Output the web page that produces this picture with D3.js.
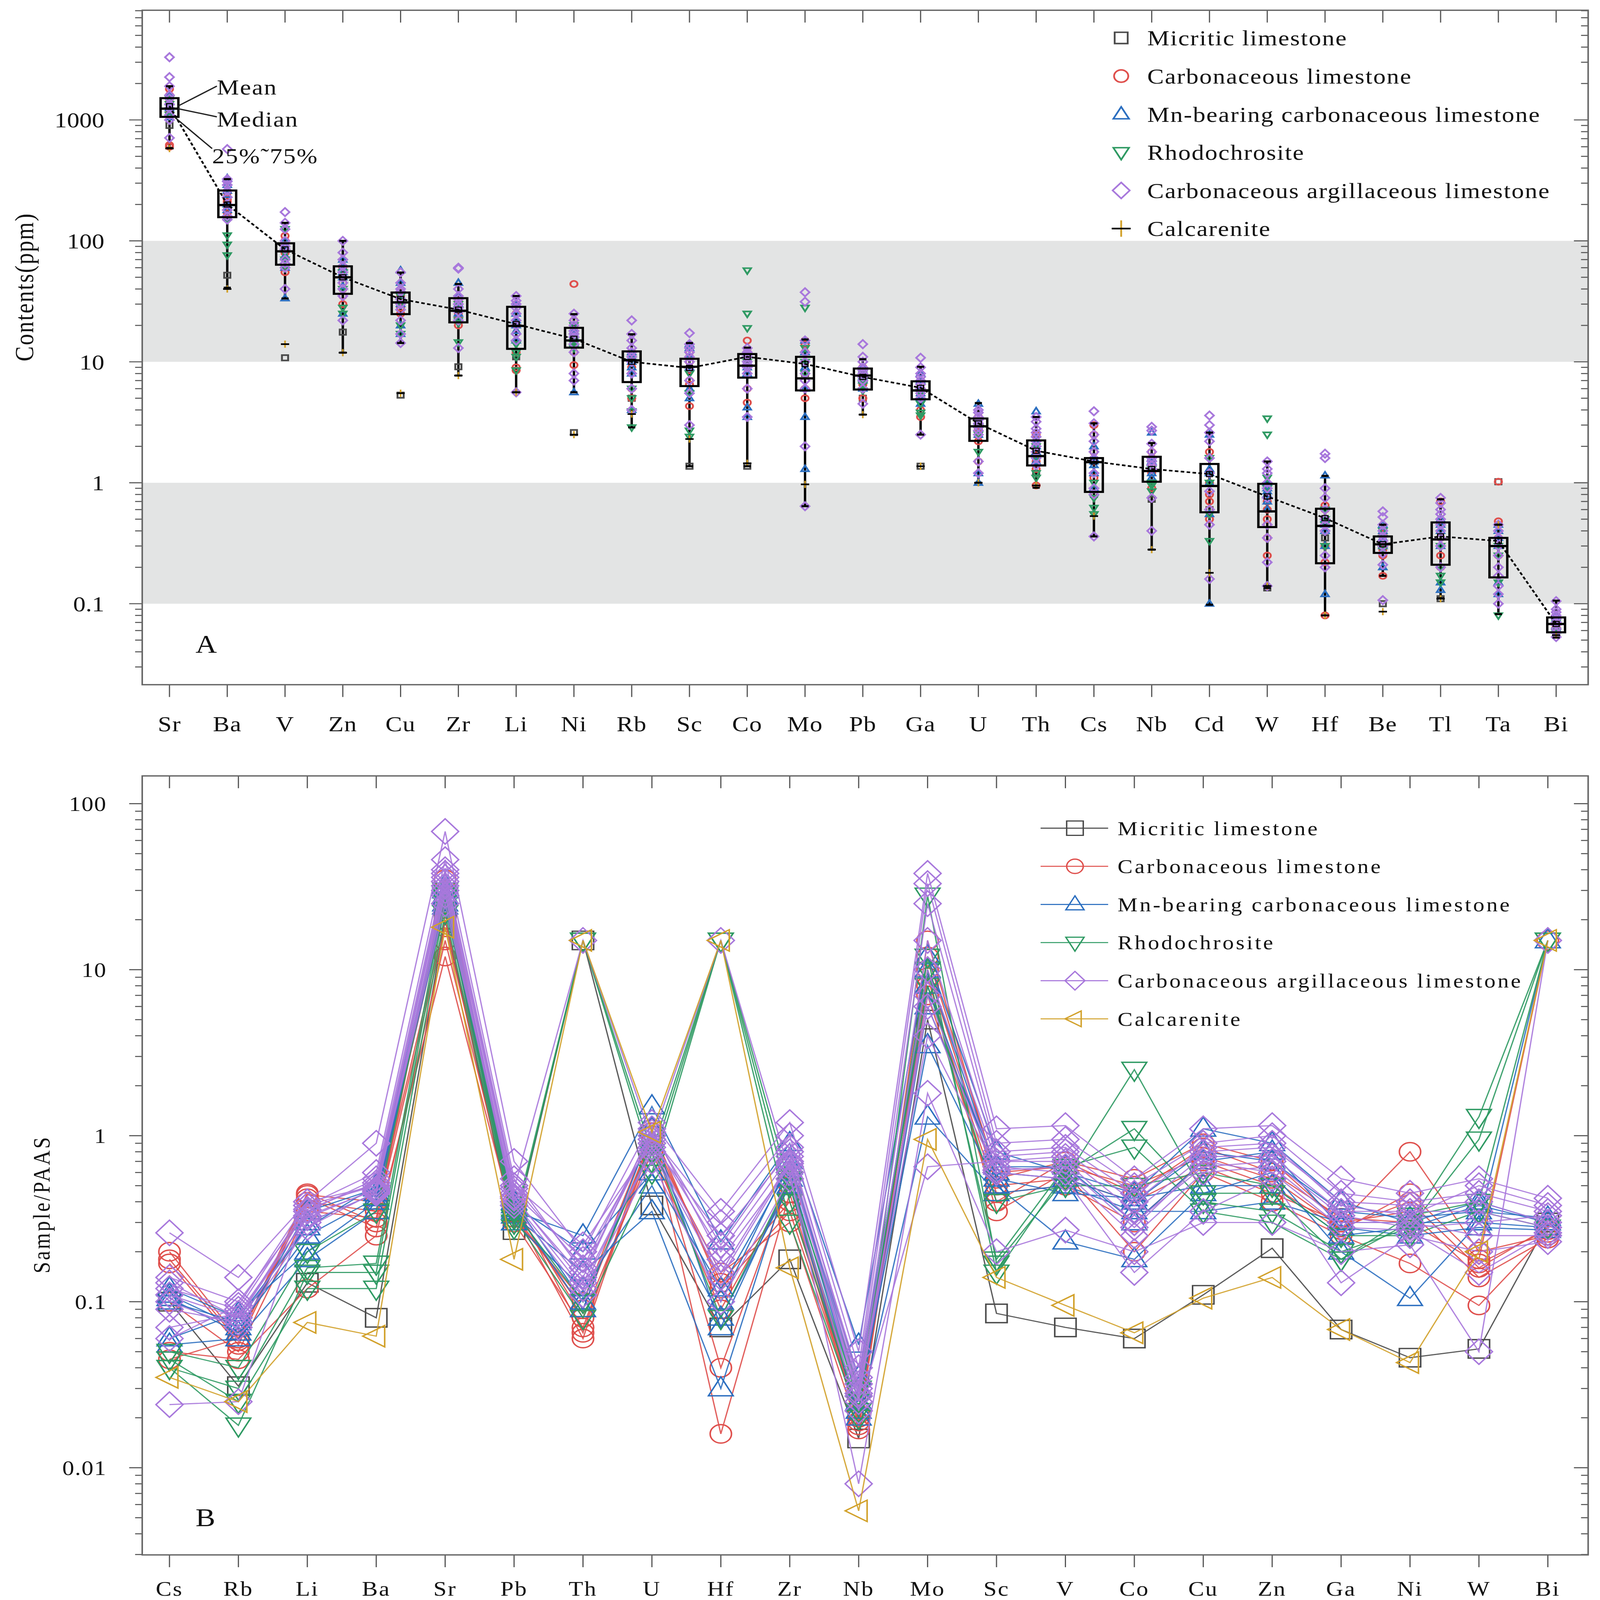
<!DOCTYPE html>
<html lang="en">
<head>
<meta charset="UTF-8">
<title>Trace element contents and PAAS-normalised patterns</title>
<script src="https://cdnjs.cloudflare.com/ajax/libs/d3/7.8.5/d3.min.js"></script>
<style>
  html, body { margin: 0; padding: 0; background: #fff; overflow: hidden; }
  svg { display: block; }
  text { font-family: "Liberation Serif", "Times New Roman", serif; fill: #111; }
</style>
</head>
<body>
<div id="chart"></div>
<script>
// ---------- data : panel A (contents, ppm) ----------
const elementsA = ["Sr","Ba","V","Zn","Cu","Zr","Li","Ni","Rb","Sc","Co","Mo","Pb","Ga","U","Th","Cs","Nb","Cd","W","Hf","Be","Tl","Ta","Bi"];
const boxQ1     = [1060, 157, 63.5, 36.5, 24.8, 21.2, 12.8, 13.1, 6.8, 6.3, 7.4, 5.8, 5.9, 4.9, 2.22, 1.39, 0.84, 1.02, 0.57, 0.43, 0.216, 0.263, 0.21, 0.165, 0.058];
const boxQ3     = [1514, 261, 95.5, 61.6, 37.4, 33.6, 28.5, 19.1, 12.2, 10.6, 11.6, 11, 8.8, 6.9, 3.4, 2.24, 1.6, 1.64, 1.43, 0.98, 0.61, 0.36, 0.47, 0.35, 0.077];
const boxMedian = [1240, 198, 82, 50, 31, 26.4, 19.8, 15, 10.3, 9.1, 9.3, 7.3, 7.7, 5.8, 2.93, 1.66, 1.48, 1.25, 0.94, 0.58, 0.44, 0.31, 0.34, 0.30, 0.068];
const boxMean   = [1300, 200, 85, 50, 33, 27, 20.5, 15.5, 10, 8.9, 11, 9.6, 7.5, 6.1, 3.1, 1.84, 1.5, 1.3, 1.18, 0.77, 0.51, 0.31, 0.36, 0.33, 0.068];
const whiskLow  = [585, 41, 33.4, 11.9, 14.3, 7.7, 5.6, 5.6, 2.87, 1.37, 1.37, 0.64, 3.66, 2.5, 1.0, 0.91, 0.36, 0.28, 0.098, 0.135, 0.08, 0.17, 0.111, 0.082, 0.0525];
const whiskHigh = [1900, 324, 141, 100, 54.7, 44, 35, 24.8, 16.9, 14.3, 13.1, 15.3, 10.5, 9.1, 4.56, 3.5, 3.1, 2.13, 2.6, 1.5, 1.14, 0.45, 0.73, 0.45, 0.106];

// sample points per rock type, one row per element (same order as elementsA)
const aMicritic    = [900, 52, 10.8, 17.6, 5.3, 9.1, 11, 2.6, 5, 1.37, 1.37, 8, 5, 1.37, 2.5, 1.2, 0.8, 0.73, 0.6, 0.135, 0.35, 0.1, 0.11, 1.02, 0.065];
const aCalcarenite = [580, 40, 14, 11.9, 5.5, 7.7, 5.6, 2.5, 3.7, 2.3, 1.45, 0.97, 3.66, 1.37, 1.0, 0.95, 0.53, 0.28, 0.18, 0.14, 0.08, 0.086, 0.11, 0.45, 0.055];
const aCarbonaceous = [
  [1800, 1600, 1400, 1200, 600, 620],
  [180, 200, 220, 170, 250, 210],
  [110, 90, 60, 55, 80, 100],
  [45, 40, 60, 30, 35, 50],
  [28, 30, 25, 33, 38, 35],
  [20, 25, 30, 27, 23, 32],
  [9, 8.5, 12, 20, 25, 30],
  [44, 9.4, 22, 18, 12, 15],
  [5, 6, 10, 12, 8, 9],
  [4.3, 7, 10, 12, 8.5, 6.5],
  [4.6, 6, 15, 12, 10, 8],
  [15, 14, 12, 8, 5, 6],
  [5, 6.5, 7, 8, 9, 7.5],
  [3.5, 4, 5, 6, 7, 5.5],
  [1.5, 2.2, 2.8, 3.5, 3, 2.6],
  [0.95, 1.3, 1.5, 2.0, 2.5, 1.7],
  [3.0, 2.5, 1.8, 1.5, 1.1, 0.8],
  [1.8, 1.6, 1.2, 1.0, 0.9, 1.4],
  [1.8, 1.0, 0.8, 0.6, 0.5, 0.7],
  [0.25, 0.45, 0.5, 0.6, 0.7, 0.35],
  [0.08, 0.22, 0.3, 0.45, 0.6, 0.65],
  [0.17, 0.25, 0.3, 0.32, 0.28, 0.38],
  [0.7, 0.45, 0.35, 0.3, 0.25, 0.2],
  [1.02, 0.48, 0.45, 0.35, 0.3, 0.25],
  [0.062, 0.065, 0.07, 0.072, 0.068, 0.075]
];
const aMnBearing = [
  [1400, 1250, 1300, 1600, 1150, 1050],
  [330, 290, 260, 240, 200, 180],
  [33.5, 60, 75, 90, 100, 85],
  [25, 50, 55, 60, 70, 42],
  [57, 20, 17, 35, 45, 30],
  [45, 35, 30, 28, 22, 25],
  [25, 22, 20, 30, 18, 15],
  [5.6, 18, 20, 16, 14, 17],
  [9, 11, 4, 8, 12, 10],
  [14, 13, 6, 5, 9, 11],
  [3.5, 4.2, 12, 9, 10, 8],
  [3.5, 1.3, 12, 15, 9, 6],
  [8, 7, 6, 9, 7.5, 8.5],
  [6, 7, 5, 8, 5.5, 4.5],
  [4.5, 1.0, 1.2, 2.5, 3.2, 3.0],
  [3.9, 2.3, 2.0, 1.8, 1.5, 2.1],
  [2.0, 1.5, 0.9, 1.6, 1.2, 1.4],
  [2.6, 1.5, 1.2, 1.3, 1.6, 1.1],
  [2.5, 1.3, 1.0, 0.55, 0.1, 1.2],
  [0.85, 1.0, 0.7, 0.6, 0.9, 0.8],
  [1.15, 0.5, 0.45, 0.4, 0.12, 0.3],
  [0.45, 0.4, 0.3, 0.2, 0.35, 0.33],
  [0.15, 0.13, 0.4, 0.45, 0.3, 0.5],
  [0.15, 0.4, 0.35, 0.3, 0.12, 0.45],
  [0.06, 0.07, 0.08, 0.075, 0.065, 0.062]
];
const aRhodochrosite = [
  [1200, 1350, 1100, 1500],
  [111, 93, 76, 150],
  [125, 80, 70, 60],
  [28, 25, 40, 55],
  [17, 20, 30, 35],
  [21, 14.5, 22, 30],
  [12, 8.5, 14, 11],
  [13, 15, 20, 14],
  [2.87, 3.9, 5, 6],
  [2.7, 2.4, 5.5, 8],
  [57, 25, 19, 10],
  [28, 13, 10, 8],
  [5.8, 6.5, 7, 8],
  [3.8, 4.5, 5.5, 3.6],
  [1.8, 2.5, 2.8, 3.2],
  [1.2, 1.1, 1.6, 2.0],
  [0.55, 0.62, 0.75, 1.0],
  [0.85, 1.0, 1.3, 0.95],
  [0.33, 1.6, 0.55, 1.0],
  [3.4, 2.5, 1.1, 0.9],
  [0.6, 0.5, 0.45, 0.3],
  [0.3, 0.35, 0.28, 0.4],
  [0.17, 0.2, 0.15, 0.3],
  [0.08, 0.15, 0.25, 0.3],
  [0.06, 0.065, 0.07, 0.058]
];
const aArgillaceous = [
  [3300, 2260, 1900, 1600, 1500, 1350, 1250, 1100, 1000, 710],
  [574, 324, 310, 290, 260, 230, 200, 180, 160, 150],
  [173, 141, 125, 100, 90, 85, 70, 65, 60, 40],
  [100, 80, 70, 62, 55, 50, 45, 40, 35, 22],
  [55, 45, 40, 38, 33, 30, 27, 22, 17, 14.3],
  [60, 59, 40, 35, 33, 30, 28, 26, 22, 13],
  [35, 32, 30, 28, 25, 22, 20, 17, 15, 5.6],
  [25, 22, 20, 18, 17, 16, 14, 12, 8, 7],
  [22, 17, 15, 13, 12, 11, 10, 8, 6, 4],
  [17.3, 14, 13, 12, 11, 10, 9, 7, 5.5, 3],
  [13, 12, 11.5, 11, 10, 9.5, 9, 8, 6, 3.5],
  [37.6, 31.4, 15, 12, 10, 8, 7, 6, 2, 0.64],
  [14, 11, 10, 9, 8.5, 8, 7.5, 7, 6, 4.5],
  [10.8, 9, 8, 7.5, 7, 6.5, 6, 5.5, 5, 2.5],
  [4, 3.8, 3.5, 3.3, 3.1, 2.9, 2.7, 2.5, 1.5, 1.2],
  [3.5, 3.2, 2.8, 2.6, 2.4, 2.2, 2.0, 1.8, 1.6, 1.4],
  [3.9, 3.1, 2.5, 2.2, 1.8, 1.6, 1.2, 0.9, 0.8, 0.36],
  [2.9, 2.7, 2.1, 1.8, 1.6, 1.5, 1.4, 1.3, 0.75, 0.4],
  [3.6, 3.0, 2.6, 2.2, 1.6, 1.2, 0.85, 0.6, 0.45, 0.16],
  [1.5, 1.3, 1.2, 1.0, 0.9, 0.75, 0.45, 0.35, 0.22, 0.14],
  [1.74, 1.6, 0.9, 0.75, 0.6, 0.5, 0.45, 0.4, 0.25, 0.2],
  [0.58, 0.52, 0.45, 0.4, 0.36, 0.33, 0.3, 0.26, 0.21, 0.107],
  [0.75, 0.68, 0.6, 0.55, 0.5, 0.45, 0.4, 0.35, 0.3, 0.2],
  [0.45, 0.4, 0.35, 0.3, 0.25, 0.2, 0.17, 0.14, 0.12, 0.1],
  [0.105, 0.09, 0.085, 0.08, 0.075, 0.07, 0.067, 0.062, 0.058, 0.053]
];
const ticksA = [0.1, 1, 10, 100, 1000];
const bandsA = [[10, 100], [0.1, 1]];

// ---------- data : panel B (sample / PAAS) ----------
const elementsB = ["Cs","Rb","Li","Ba","Sr","Pb","Th","U","Hf","Zr","Nb","Mo","Sc","V","Co","Cu","Zn","Ga","Ni","W","Bi"];
const bMicritic = [
  [0.1, 0.031, 0.13, 0.08, 20, 0.27, 15, 0.38, 0.07, 0.18, 0.015, 5, 0.085, 0.07, 0.06, 0.11, 0.21, 0.068, 0.046, 0.052, 0.3]
];
const bCarbonaceous = [
  [0.2, 0.06, 0.45, 0.3, 35, 0.35, 0.06, 1.0, 0.016, 0.45, 0.018, 15, 0.55, 0.7, 0.55, 0.9, 0.7, 0.3, 0.8, 0.2, 0.25],
  [0.17, 0.055, 0.42, 0.28, 12, 0.3, 0.07, 0.9, 0.15, 0.3, 0.017, 9, 0.35, 0.6, 0.2, 0.6, 0.4, 0.25, 0.17, 0.095, 0.26],
  [0.05, 0.045, 0.12, 0.25, 15, 0.32, 0.1, 1.1, 0.12, 0.35, 0.02, 8, 0.45, 0.5, 0.3, 0.7, 0.5, 0.27, 0.45, 0.18, 15],
  [0.045, 0.06, 0.4, 0.35, 20, 0.38, 0.08, 0.8, 0.09, 0.5, 0.019, 12, 0.6, 0.65, 0.5, 0.75, 0.55, 0.28, 0.4, 0.16, 0.28],
  [0.1, 0.05, 0.35, 0.32, 18, 0.34, 0.09, 1.0, 0.13, 0.4, 0.021, 10, 0.5, 0.55, 0.4, 0.65, 0.45, 0.3, 0.35, 0.14, 0.24],
  [0.18, 0.058, 0.44, 0.4, 25, 0.4, 0.065, 1.05, 0.04, 0.55, 0.02, 7, 0.4, 0.7, 0.45, 0.85, 0.6, 0.32, 0.3, 0.17, 0.27]
];
const bMnBearing = [
  [0.12, 0.08, 0.28, 0.5, 30, 0.35, 0.25, 1.5, 0.23, 0.9, 0.055, 12, 0.8, 0.6, 0.45, 1.1, 0.9, 0.4, 0.3, 0.4, 0.3],
  [0.1, 0.075, 0.3, 0.45, 27, 0.33, 0.15, 0.35, 0.03, 0.6, 0.025, 3.5, 0.5, 0.23, 0.18, 0.45, 0.6, 0.2, 0.105, 0.3, 0.28],
  [0.11, 0.07, 0.25, 0.42, 25, 0.3, 0.12, 0.5, 0.08, 0.5, 0.02, 1.3, 0.45, 0.5, 0.35, 0.35, 0.4, 0.3, 0.3, 0.3, 15],
  [0.06, 0.085, 0.2, 0.4, 28, 0.4, 0.1, 0.9, 0.1, 0.7, 0.03, 10, 0.6, 0.55, 0.4, 0.8, 0.7, 0.35, 0.32, 0.35, 0.32],
  [0.105, 0.065, 0.35, 0.48, 24, 0.36, 0.09, 1.1, 0.07, 0.55, 0.022, 6, 0.65, 0.65, 0.3, 0.7, 0.8, 0.28, 0.25, 0.28, 0.27],
  [0.055, 0.06, 0.18, 0.35, 32, 0.38, 0.2, 0.6, 0.12, 0.65, 0.035, 8, 0.55, 0.45, 0.42, 0.5, 0.5, 0.25, 0.28, 0.38, 0.3]
];
const bRhodochrosite = [
  [0.04, 0.018, 0.15, 0.15, 25, 0.3, 15, 0.7, 15, 0.3, 0.02, 28, 0.17, 0.55, 2.5, 0.45, 0.45, 0.18, 0.3, 1.3, 15],
  [0.045, 0.025, 0.12, 0.12, 22, 0.28, 15, 0.8, 15, 0.4, 0.022, 12, 0.15, 0.6, 1.1, 0.4, 0.35, 0.2, 0.28, 0.95, 15],
  [0.04, 0.03, 0.16, 0.17, 28, 0.32, 0.08, 0.6, 15, 0.5, 0.025, 10, 0.18, 0.65, 0.85, 0.35, 0.3, 0.18, 0.33, 0.4, 15],
  [0.05, 0.04, 0.2, 0.35, 30, 0.35, 0.1, 0.9, 0.08, 0.55, 0.03, 8, 0.4, 0.5, 0.5, 0.6, 0.5, 0.25, 0.25, 0.35, 0.28]
];
const bArgillaceous = [
  [0.26, 0.14, 0.4, 0.9, 68, 0.7, 0.2, 1.2, 0.35, 1.2, 0.05, 38, 1.1, 1.15, 0.55, 1.1, 1.15, 0.55, 0.45, 0.55, 0.42],
  [0.024, 0.025, 0.38, 0.6, 46, 0.55, 0.15, 1.0, 0.3, 1.0, 0.04, 33, 0.9, 0.95, 0.5, 0.9, 1.0, 0.45, 0.4, 0.45, 0.35],
  [0.14, 0.1, 0.35, 0.55, 40, 0.5, 0.22, 0.9, 0.25, 0.8, 0.035, 25, 0.8, 0.85, 0.45, 0.8, 0.85, 0.4, 0.38, 0.4, 0.3],
  [0.12, 0.09, 0.38, 0.5, 36, 0.45, 0.18, 0.95, 0.2, 0.75, 0.03, 10, 0.7, 0.75, 0.35, 0.75, 0.75, 0.35, 0.35, 0.35, 0.28],
  [0.07, 0.085, 0.32, 0.48, 30, 0.4, 0.12, 0.85, 0.15, 0.7, 0.025, 7, 0.65, 0.6, 0.25, 0.6, 0.65, 0.3, 0.3, 0.25, 0.25],
  [0.09, 0.075, 0.3, 0.45, 32, 0.42, 0.14, 1.1, 0.18, 0.65, 0.028, 6, 0.6, 0.55, 0.15, 0.35, 0.55, 0.13, 0.25, 0.2, 0.23],
  [0.13, 0.08, 0.36, 0.52, 34, 0.48, 15, 0.95, 15, 0.6, 0.008, 1.8, 0.2, 0.27, 0.2, 0.3, 0.3, 0.2, 0.22, 0.05, 15],
  [0.1, 0.07, 0.28, 0.46, 28, 0.38, 0.11, 0.7, 0.1, 0.55, 0.022, 0.65, 0.7, 0.7, 0.3, 0.65, 0.7, 0.33, 0.28, 0.3, 0.33],
  [0.06, 0.095, 0.4, 0.5, 38, 0.5, 0.16, 1.05, 0.22, 0.85, 0.032, 15, 0.75, 0.8, 0.4, 0.85, 0.9, 0.38, 0.33, 0.5, 0.38],
  [0.11, 0.08, 0.33, 0.47, 25, 0.43, 0.13, 0.8, 0.14, 0.68, 0.027, 4, 0.62, 0.65, 0.28, 0.7, 0.6, 0.28, 0.27, 0.15, 0.26]
];
const bCalcarenite = [
  [0.035, 0.025, 0.075, 0.062, 18, 0.18, 15, 1.05, 15, 0.16, 0.0055, 0.95, 0.14, 0.095, 0.065, 0.105, 0.14, 0.068, 0.043, 0.2, 15]
];
const ticksB = [0.01, 0.1, 1, 10, 100];

const rockTypes = ["Micritic limestone", "Carbonaceous limestone", "Mn-bearing carbonaceous limestone",
                   "Rhodochrosite", "Carbonaceous argillaceous limestone", "Calcarenite"];
const typeColors = ["#4a4a4a", "#df4f4c", "#2c6fc0", "#2f9a63", "#a878dc", "#d2a12a"];
const typeShapes = ["square", "circle", "up", "down", "diamond", "left"];

// ---------- layout: drawn in a 1350 x 1561 box, stretched to the window ----------
const VW = 1350, VH = 1561;
const winW = window.innerWidth || 4145, winH = window.innerHeight || 4793;
const svg = d3.select("#chart").append("svg")
  .attr("width", winW).attr("height", winH)
  .attr("viewBox", `0 0 ${VW} ${VH}`)
  .attr("preserveAspectRatio", "none");
svg.append("rect").attr("width", VW).attr("height", VH).attr("fill", "#fff");

const frameA = {l: 120, r: 1340, t: 10, b: 668};
const frameB = {l: 120, r: 1340, t: 757, b: 1517};

const xA = d3.scalePoint().domain(elementsA).range([143, 1313]);
const yA = d3.scaleLog().domain([0.0214, 8070]).range([frameA.b, frameA.t]);
const xB = d3.scalePoint().domain(elementsB).range([143, 1306]);
const yB = d3.scaleLog().domain([0.002985, 146.9]).range([frameB.b, frameB.t]);

function shapePath(kind, s) {
  switch (kind) {
    case "square":  return `M${-s},${-s}H${s}V${s}H${-s}Z`;
    case "circle":  return `M${-s},0A${s},${s} 0 1,0 ${s},0A${s},${s} 0 1,0 ${-s},0Z`;
    case "up":      return `M0,${-1.2*s}L${1.1*s},${0.75*s}L${-1.1*s},${0.75*s}Z`;
    case "down":    return `M0,${1.2*s}L${1.1*s},${-0.75*s}L${-1.1*s},${-0.75*s}Z`;
    case "diamond": return `M0,${-1.3*s}L${1.2*s},0L0,${1.3*s}L${-1.2*s},0Z`;
    case "left":    return `M${-1.2*s},0L${0.75*s},${-1.1*s}L${0.75*s},${1.1*s}Z`;
  }
}

function logTicks(domain) {
  const out = [];
  const lo = Math.floor(Math.log10(domain[0])), hi = Math.ceil(Math.log10(domain[1]));
  for (let e = lo; e <= hi; e++) {
    for (let m = 1; m < 10; m++) {
      const v = m * Math.pow(10, e);
      if (v >= domain[0] && v <= domain[1]) out.push({v: v, major: m === 1});
    }
  }
  return out;
}

function drawFrame(g, f, x, y, cats) {
  const lt = logTicks(y.domain());
  // left side: outward
  g.selectAll(".tl").data(lt).join("line")
    .attr("x1", f.l).attr("x2", d => f.l - (d.major ? 11 : 6))
    .attr("y1", d => y(d.v)).attr("y2", d => y(d.v))
    .attr("stroke", "#555").attr("stroke-width", 1);
  // right side: inward
  g.selectAll(".tr").data(lt).join("line")
    .attr("x1", f.r).attr("x2", d => f.r - (d.major ? 12 : 6))
    .attr("y1", d => y(d.v)).attr("y2", d => y(d.v))
    .attr("stroke", "#555").attr("stroke-width", 1);
  // top (inward) and bottom (outward) category ticks
  g.selectAll(".tt").data(cats).join("line")
    .attr("x1", d => x(d)).attr("x2", d => x(d))
    .attr("y1", f.t).attr("y2", f.t + 12)
    .attr("stroke", "#555").attr("stroke-width", 1);
  g.selectAll(".tb").data(cats).join("line")
    .attr("x1", d => x(d)).attr("x2", d => x(d))
    .attr("y1", f.b).attr("y2", f.b + 12)
    .attr("stroke", "#555").attr("stroke-width", 1);
  g.append("rect")
    .attr("x", f.l).attr("y", f.t).attr("width", f.r - f.l).attr("height", f.b - f.t)
    .attr("fill", "none").attr("stroke", "#666").attr("stroke-width", 1.3);
}

// ================= PANEL A =================
const gA = svg.append("g");

gA.selectAll(".band").data(bandsA).join("rect")
  .attr("x", frameA.l).attr("width", frameA.r - frameA.l)
  .attr("y", d => yA(d[1])).attr("height", d => yA(d[0]) - yA(d[1]))
  .attr("fill", "#e3e4e4");

const statsA = elementsA.map((e, i) => ({
  e, q1: boxQ1[i], q3: boxQ3[i], med: boxMedian[i], mean: boxMean[i], lo: whiskLow[i], hi: whiskHigh[i]
}));
gA.selectAll(".whisk").data(statsA).join("line")
  .attr("x1", d => xA(d.e)).attr("x2", d => xA(d.e))
  .attr("y1", d => yA(d.lo)).attr("y2", d => yA(d.hi))
  .attr("stroke", "#000").attr("stroke-width", 2);

// sample points
const ptsA = [];
elementsA.forEach((e, i) => {
  ptsA.push({e, v: aMicritic[i], t: 0});
  aCarbonaceous[i].forEach(v => ptsA.push({e, v, t: 1}));
  aMnBearing[i].forEach(v => ptsA.push({e, v, t: 2}));
  aRhodochrosite[i].forEach(v => ptsA.push({e, v, t: 3}));
  aArgillaceous[i].forEach(v => ptsA.push({e, v, t: 4}));
});
const sizeA = [2.6, 3, 2.9, 2.9, 3.1];
gA.selectAll(".ptA").data(ptsA).join("path")
  .attr("transform", d => `translate(${xA(d.e)},${yA(d.v)})`)
  .attr("d", d => shapePath(typeShapes[d.t], sizeA[d.t]))
  .attr("fill", "none").attr("stroke", d => typeColors[d.t]).attr("stroke-width", 1.6);
// calcarenite crosses: black bar, gold stem
const calcA = elementsA.map((e, i) => ({e, v: aCalcarenite[i]}));
gA.selectAll(".calcV").data(calcA).join("line")
  .attr("x1", d => xA(d.e)).attr("x2", d => xA(d.e))
  .attr("y1", d => yA(d.v) - 3.5).attr("y2", d => yA(d.v) + 3.5)
  .attr("stroke", typeColors[5]).attr("stroke-width", 1.4);
gA.selectAll(".calcH").data(calcA).join("line")
  .attr("x1", d => xA(d.e) - 3.5).attr("x2", d => xA(d.e) + 3.5)
  .attr("y1", d => yA(d.v)).attr("y2", d => yA(d.v))
  .attr("stroke", "#000").attr("stroke-width", 1.6);

// whisker caps
["lo", "hi"].forEach(k => {
  gA.selectAll(".cap-" + k).data(statsA).join("line")
    .attr("x1", d => xA(d.e) - 3).attr("x2", d => xA(d.e) + 3)
    .attr("y1", d => yA(d[k])).attr("y2", d => yA(d[k]))
    .attr("stroke", "#000").attr("stroke-width", 2);
});

// mean line
gA.append("path").datum(statsA)
  .attr("d", d3.line().x(d => xA(d.e)).y(d => yA(d.mean)))
  .attr("fill", "none").attr("stroke", "#000").attr("stroke-width", 1.6)
  .attr("stroke-dasharray", "3,2");

// boxes
const bw = 15;
gA.selectAll(".box").data(statsA).join("rect")
  .attr("x", d => xA(d.e) - bw / 2).attr("width", bw)
  .attr("y", d => yA(d.q3)).attr("height", d => yA(d.q1) - yA(d.q3))
  .attr("fill", "none").attr("stroke", "#000").attr("stroke-width", 2);
gA.selectAll(".med").data(statsA).join("line")
  .attr("x1", d => xA(d.e) - bw / 2).attr("x2", d => xA(d.e) + bw / 2)
  .attr("y1", d => yA(d.med)).attr("y2", d => yA(d.med))
  .attr("stroke", "#000").attr("stroke-width", 2.2);
gA.selectAll(".meanSq").data(statsA).join("rect")
  .attr("x", d => xA(d.e) - 2.5).attr("y", d => yA(d.mean) - 2.5)
  .attr("width", 5).attr("height", 5)
  .attr("fill", "none").attr("stroke", "#000").attr("stroke-width", 1);

drawFrame(gA, frameA, xA, yA, elementsA);

// axis labels
gA.selectAll(".ylab").data(ticksA).join("text")
  .attr("x", 88).attr("y", d => yA(d)).attr("dy", "0.35em")
  .attr("text-anchor", "end").attr("font-size", 21)
  .text(d => d3.format("")(d));
gA.selectAll(".xlab").data(elementsA).join("text")
  .attr("x", d => xA(d)).attr("y", 706).attr("dy", "0.35em")
  .attr("text-anchor", "middle").attr("font-size", 21).attr("letter-spacing", 0.5)
  .text(d => d);
gA.append("text")
  .attr("transform", "translate(28,280) rotate(-90)")
  .attr("text-anchor", "middle").attr("font-size", 22).attr("letter-spacing", 1)
  .text("Contents(ppm)");
gA.append("text").attr("x", 165).attr("y", 637).attr("font-size", 25).text("A");

// Mean / Median / 25%~75% annotation on the first box
const srX = xA(elementsA[0]);
const notes = [
  {label: "Mean",    from: [srX + 7, yA(boxMean[0])],   to: [srX + 40, 84],  ty: 85},
  {label: "Median",  from: [srX + 7, yA(boxMedian[0])], to: [srX + 40, 114], ty: 116},
  {label: "25%˜75%", from: [srX + 4, yA(boxQ1[0])],     to: [srX + 36, 145], ty: 152}
];
gA.selectAll(".noteL").data(notes).join("line")
  .attr("x1", d => d.from[0]).attr("y1", d => d.from[1])
  .attr("x2", d => d.to[0]).attr("y2", d => d.to[1])
  .attr("stroke", "#222").attr("stroke-width", 1.2);
gA.selectAll(".noteT").data(notes).join("text")
  .attr("x", d => d.to[0]).attr("y", d => d.ty).attr("dy", "0.35em")
  .attr("font-size", 21).attr("letter-spacing", 0.8).text(d => d.label);

// legend A
const legA = gA.append("g");
rockTypes.forEach((name, i) => {
  const ly = 37 + i * 37.2;
  if (i < 5) {
    legA.append("path").attr("transform", `translate(946,${ly})`)
      .attr("d", shapePath(typeShapes[i], i === 0 ? 5.5 : 6))
      .attr("fill", "none").attr("stroke", typeColors[i]).attr("stroke-width", 1.5);
  } else {
    legA.append("line").attr("x1", 946).attr("x2", 946).attr("y1", ly - 8).attr("y2", ly + 8)
      .attr("stroke", typeColors[5]).attr("stroke-width", 1.5);
    legA.append("line").attr("x1", 938).attr("x2", 954).attr("y1", ly).attr("y2", ly)
      .attr("stroke", "#000").attr("stroke-width", 1.6);
  }
  legA.append("text").attr("x", 968).attr("y", ly).attr("dy", "0.35em")
    .attr("font-size", 21).attr("letter-spacing", 0.8).text(name);
});

// ================= PANEL B =================
const gB = svg.append("g");
const seriesB = [bMicritic, bCarbonaceous, bMnBearing, bRhodochrosite, bArgillaceous, bCalcarenite];
const lineB = d3.line().x((d, i) => xB(elementsB[i])).y(d => yB(d));
const sizeB = [9, 9, 9.5, 9.5, 9.5, 9.5];

seriesB.forEach((samples, t) => {
  const g = gB.append("g");
  g.selectAll("path.ln").data(samples).join("path").attr("class", "ln")
    .attr("d", lineB).attr("fill", "none")
    .attr("stroke", typeColors[t]).attr("stroke-width", 1.1).attr("stroke-opacity", 0.9);
  const pts = samples.flatMap(s => s.map((v, i) => ({e: elementsB[i], v})));
  g.selectAll("path.mk").data(pts).join("path").attr("class", "mk")
    .attr("transform", d => `translate(${xB(d.e)},${yB(d.v)})`)
    .attr("d", shapePath(typeShapes[t], sizeB[t]))
    .attr("fill", "none").attr("stroke", typeColors[t]).attr("stroke-width", 1.3);
});

drawFrame(gB, frameB, xB, yB, elementsB);

gB.selectAll(".ylab").data(ticksB).join("text")
  .attr("x", 90).attr("y", d => yB(d)).attr("dy", "0.35em")
  .attr("text-anchor", "end").attr("font-size", 20).attr("letter-spacing", 0.6)
  .text(d => d3.format("")(d));
gB.selectAll(".xlab").data(elementsB).join("text")
  .attr("x", d => xB(d)).attr("y", 1550).attr("dy", "0.35em")
  .attr("text-anchor", "middle").attr("font-size", 20).attr("letter-spacing", 1)
  .text(d => d);
gB.append("text")
  .attr("transform", "translate(42,1175) rotate(-90)")
  .attr("text-anchor", "middle").attr("font-size", 20).attr("letter-spacing", 1.8)
  .text("Sample/PAAS");
gB.append("text").attr("x", 165).attr("y", 1489).attr("font-size", 25).text("B");

// legend B
const legB = gB.append("g");
rockTypes.forEach((name, i) => {
  const ly = 808 + i * 37.2;
  legB.append("line").attr("x1", 878).attr("x2", 935).attr("y1", ly).attr("y2", ly)
    .attr("stroke", typeColors[i]).attr("stroke-width", 1);
  legB.append("path").attr("transform", `translate(907,${ly})`)
    .attr("d", shapePath(typeShapes[i], 7))
    .attr("fill", "none").attr("stroke", typeColors[i]).attr("stroke-width", 1.2);
  legB.append("text").attr("x", 943).attr("y", ly).attr("dy", "0.35em")
    .attr("font-size", 19).attr("letter-spacing", 1.7).text(name);
});
</script>
</body>
</html>
